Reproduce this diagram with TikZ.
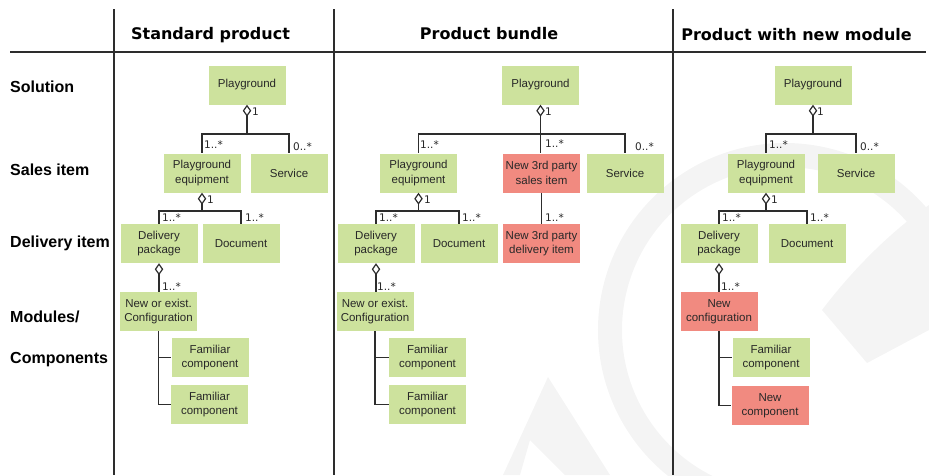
\documentclass[tikz,border=0pt]{standalone}
\usepackage{fontspec}
\setmainfont{Liberation Sans}
\newfontfamily\djv{DejaVu Sans}
\usetikzlibrary{arrows.meta}
\definecolor{gfill}{RGB}{205,226,157}
\definecolor{rfill}{RGB}{241,138,128}
\definecolor{ln}{RGB}{45,45,45}
\definecolor{txt}{RGB}{40,40,40}
\definecolor{wm}{RGB}{244,244,244}
\tikzset{
  box/.style={fill=gfill, minimum width=77pt, minimum height=39pt, inner sep=1pt,
    align=center, text=txt, font=\fontsize{11.5}{14.3}\selectfont},
  rbox/.style={box, fill=rfill},
  con/.style={draw=ln, line width=1.4pt},
  agg/.style={con, {Diamond[open, length=12pt, width=8.5pt, line width=1.2pt]}-},
  mult/.style={anchor=base west, inner sep=0pt, text=txt, font=\djv\fontsize{10.5}{12}\selectfont},
  head/.style={anchor=base, inner sep=0pt, font=\djv\bfseries\fontsize{16}{18}\selectfont},
  rowlab/.style={anchor=base west, inner sep=0pt, font=\bfseries\fontsize{16}{18}\selectfont},
  frame/.style={draw=ln, line width=1.5pt}
}
\begin{document}
\begin{tikzpicture}[x=1pt, y=-1pt]
\useasboundingbox (0,0) rectangle (929,475);
% faint watermark
\begin{scope}
\clip (0,0) rectangle (929,475);
\begin{scope}[y=1pt]
\draw[wm, line width=24pt] ([shift={(35:175)}]785,-330) arc[start angle=35, end angle=250, radius=175];
\end{scope}
\fill[wm] (503,475) -- (548,377) -- (610,475) -- (565,475) -- (530,440) -- (520,475) -- cycle;
\fill[wm] (822,310) .. controls (860,260) and (900,225) .. (929,205) -- (929,330) -- (867,363) -- cycle;
\end{scope}
% frame lines
\coordinate (hl) at (10,52);
\coordinate (hr) at (926,52);
\draw[frame] (hl) -- (hr);
\coordinate (v1t) at (114,9); \coordinate (v1b) at (114,475);
\coordinate (v2t) at (334,9); \coordinate (v2b) at (334,475);
\coordinate (v3t) at (673,9); \coordinate (v3b) at (673,475);
\draw[frame] (v1t) -- (v1b);
\draw[frame] (v2t) -- (v2b);
\draw[frame] (v3t) -- (v3b);
% headers
\node[head] (h1) at (210.5,39) {Standard product};
\node[head] (h2) at (489,39) {Product bundle};
\node[head] (h3) at (796.5,40) {Product with new module};
% row labels
\node[rowlab] (r1) at (10,92) {Solution};
\node[rowlab] (r2) at (10,175) {Sales item};
\node[rowlab] (r3) at (10,247) {Delivery item};
\node[rowlab] (r4) at (10,322) {Modules/};
\node[rowlab] (r5) at (10,363) {Components};

% ---------- Standard product ----------
\node[box] (s_pg) at (247,85) {Playground};
\node[box] (s_pe) at (202,173) {Playground\\equipment};
\node[box] (s_sv) at (289,173) {Service};
\node[box] (s_dp) at (159,243.5) {Delivery\\package};
\node[box] (s_doc) at (241,243.5) {Document};
\node[box] (s_cf) at (158.5,311.5) {New or exist.\\Configuration};
\node[box] (s_f1) at (210,357.5) {Familiar\\component};
\node[box] (s_f2) at (209.5,404.5) {Familiar\\component};
\coordinate (s_j1) at (s_pg.south |- 0,134);
\coordinate (s_j2) at (s_pe.south |- 0,211);
\draw[agg] (s_pg.south) -- (s_j1);
\draw[con] (s_j1) -| (s_pe.north);
\draw[con] (s_j1) -| (s_sv.north);
\draw[agg] (s_pe.south) -- (s_j2);
\draw[con] (s_j2) -| (s_dp.north);
\draw[con] (s_j2) -| (s_doc.north);
\draw[agg] (s_dp.south) -- (s_dp.south |- s_cf.north);
\draw[con] (s_cf.south) |- (s_f1.west);
\draw[con] (s_cf.south) |- (s_f2.west);
\node[mult] at (252,115) {1};
\node[mult] at (204,148) {1..*};
\node[mult] at (293,150) {0..*};
\node[mult] at (207,203) {1};
\node[mult] at (162,221) {1..*};
\node[mult] at (245,221) {1..*};
\node[mult] at (162,290) {1..*};

% ---------- Product bundle ----------
\node[box] (b_pg) at (540.5,85) {Playground};
\node[box] (b_pe) at (418.5,173) {Playground\\equipment};
\node[rbox] (b_ns) at (541.5,173) {New 3rd party\\sales item};
\node[box] (b_sv) at (625,173) {Service};
\node[box] (b_dp) at (376,243.5) {Delivery\\package};
\node[box] (b_doc) at (459,243.5) {Document};
\node[rbox] (b_nd) at (541.5,243.5) {New 3rd party\\delivery item};
\node[box] (b_cf) at (375,311.5) {New or exist.\\Configuration};
\node[box] (b_f1) at (427.5,357.5) {Familiar\\component};
\node[box] (b_f2) at (427.5,404.5) {Familiar\\component};
\coordinate (b_j1) at (b_pg.south |- 0,134);
\coordinate (b_j2) at (b_pe.south |- 0,211);
\draw[agg] (b_pg.south) -- (b_j1);
\draw[con] (b_j1) -| (b_pe.north);
\draw[con] (b_j1) -| (b_sv.north);
\draw[con] (b_j1) -- (b_j1 |- b_ns.north);
\draw[agg] (b_pe.south) -- (b_j2);
\draw[con] (b_j2) -| (b_dp.north);
\draw[con] (b_j2) -| (b_doc.north);
\draw[con] (b_ns.south) -- (b_nd.north);
\draw[agg] (b_dp.south) -- (b_dp.south |- b_cf.north);
\draw[con] (b_cf.south) |- (b_f1.west);
\draw[con] (b_cf.south) |- (b_f2.west);
\node[mult] at (545,115) {1};
\node[mult] at (420,148) {1..*};
\node[mult] at (545,147) {1..*};
\node[mult] at (635,150) {0..*};
\node[mult] at (424,203) {1};
\node[mult] at (379,221) {1..*};
\node[mult] at (462,221) {1..*};
\node[mult] at (545,221) {1..*};
\node[mult] at (377,290) {1..*};

% ---------- Product with new module ----------
\node[box] (n_pg) at (813,85) {Playground};
\node[box] (n_pe) at (766,173) {Playground\\equipment};
\node[box] (n_sv) at (856,173) {Service};
\node[box] (n_dp) at (719,243.5) {Delivery\\package};
\node[box] (n_doc) at (807,243.5) {Document};
\node[rbox] (n_cf) at (719,311.5) {New\\configuration};
\node[box] (n_f1) at (771,357.5) {Familiar\\component};
\node[rbox] (n_nc) at (770,405.5) {New\\component};
\coordinate (n_j1) at (n_pg.south |- 0,134);
\coordinate (n_j2) at (n_pe.south |- 0,211);
\draw[agg] (n_pg.south) -- (n_j1);
\draw[con] (n_j1) -| (n_pe.north);
\draw[con] (n_j1) -| (n_sv.north);
\draw[agg] (n_pe.south) -- (n_j2);
\draw[con] (n_j2) -| (n_dp.north);
\draw[con] (n_j2) -| (n_doc.north);
\draw[agg] (n_dp.south) -- (n_dp.south |- n_cf.north);
\draw[con] (n_cf.south) |- (n_f1.west);
\draw[con] (n_cf.south) |- (n_nc.west);
\node[mult] at (817,115) {1};
\node[mult] at (769,148) {1..*};
\node[mult] at (860,150) {0..*};
\node[mult] at (771,203) {1};
\node[mult] at (722,221) {1..*};
\node[mult] at (810,221) {1..*};
\node[mult] at (721,290) {1..*};
\end{tikzpicture}
\end{document}
